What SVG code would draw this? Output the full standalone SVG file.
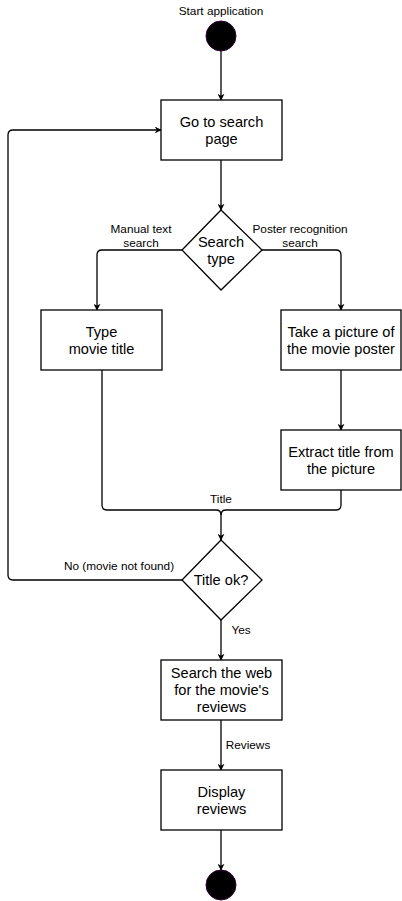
<svg xmlns="http://www.w3.org/2000/svg" width="402" height="901" viewBox="0 0 402 901">
<defs>
<marker id="arr" viewBox="0 0 10 10" refX="9" refY="5" markerWidth="7" markerHeight="7" orient="auto" markerUnits="userSpaceOnUse">
<path d="M0,0 L10,5 L0,10 L3,5 Z" fill="#000"/>
</marker>
<style>
.n{fill:#fff;stroke:#000;stroke-width:1.3}
.c{fill:#000;stroke:#303;stroke-width:1}
.t{font-family:"Liberation Sans",Arial,sans-serif;font-size:14.6px;fill:#000;text-anchor:middle}
.l{font-family:"Liberation Sans",Arial,sans-serif;font-size:11.8px;fill:#000;text-anchor:middle}
.e{fill:none;stroke:#000;stroke-width:1.3;marker-end:url(#arr)}
.e2{fill:none;stroke:#000;stroke-width:1.3}
</style>
</defs>
<rect width="402" height="901" fill="#fff"/>
<g id="connectors">
<path class="e" d="M221,51 L221,100"/>
<path class="e" d="M221,160 L221,210"/>
<path class="e" d="M182,250 L102,250 Q97,250 97,255 L97,310"/>
<path class="e" d="M262,250 L336,250 Q341,250 341,255 L341,310"/>
<path class="e" d="M341,370 L341,430"/>
<path class="e2" d="M102,370 L102,505 Q102,510 107,510 L216,510 Q221,510 221,515"/>
<path class="e2" d="M341,490 L341,505 Q341,510 336,510 L226,510 Q221,510 221,515"/>
<path class="e" d="M221,515 L221,540"/>
<path class="e" d="M182,580 L13,580 Q8,580 8,575 L8,135 Q8,130 13,130 L161,130"/>
<path class="e" d="M221,620 L221,660"/>
<path class="e" d="M221,720 L221,770"/>
<path class="e" d="M221,830 L221,870"/>
<text class="l" x="221" y="15">Start application</text>
<text class="l" x="141" y="233">Manual text</text>
<text class="l" x="141" y="247">search</text>
<text class="l" x="300" y="233">Poster recognition</text>
<text class="l" x="300" y="247">search</text>
<text class="l" x="221" y="503">Title</text>
<text class="l" x="119" y="570">No (movie not found)</text>
<text class="l" x="241" y="634">Yes</text>
<text class="l" x="248" y="749">Reviews</text>
</g>
<g id="start"><circle class="c" cx="221" cy="36" r="15"/></g>
<g id="goto"><rect class="n" x="161" y="100" width="121" height="60"/>
<text class="t" x="221.5" y="127">Go to search</text><text class="t" x="221.5" y="144">page</text></g>
<g id="searchtype"><path class="n" d="M221,210 L262,250 L221,290 L182,250 Z"/>
<text class="t" x="221" y="247">Search</text><text class="t" x="221" y="264">type</text></g>
<g id="type"><rect class="n" x="41" y="310" width="121" height="60"/>
<text class="t" x="101.5" y="337">Type</text><text class="t" x="101.5" y="354">movie title</text></g>
<g id="picture"><rect class="n" x="281" y="310" width="120" height="60"/>
<text class="t" x="341" y="337">Take a picture of</text><text class="t" x="341" y="354">the movie poster</text></g>
<g id="extract"><rect class="n" x="281" y="430" width="120" height="60"/>
<text class="t" x="341" y="457">Extract title from</text><text class="t" x="341" y="474">the picture</text></g>
<g id="titleok"><path class="n" d="M221,540 L262,580 L221,620 L182,580 Z"/>
<text class="t" x="221" y="585">Title ok?</text></g>
<g id="searchweb"><rect class="n" x="161" y="660" width="121" height="60"/>
<text class="t" x="221.5" y="678">Search the web</text><text class="t" x="221.5" y="695">for the movie's</text><text class="t" x="221.5" y="712">reviews</text></g>
<g id="display"><rect class="n" x="161" y="770" width="121" height="60"/>
<text class="t" x="221.5" y="797">Display</text><text class="t" x="221.5" y="814">reviews</text></g>
<g id="end"><circle class="c" cx="221" cy="885" r="15"/></g>
</svg>
